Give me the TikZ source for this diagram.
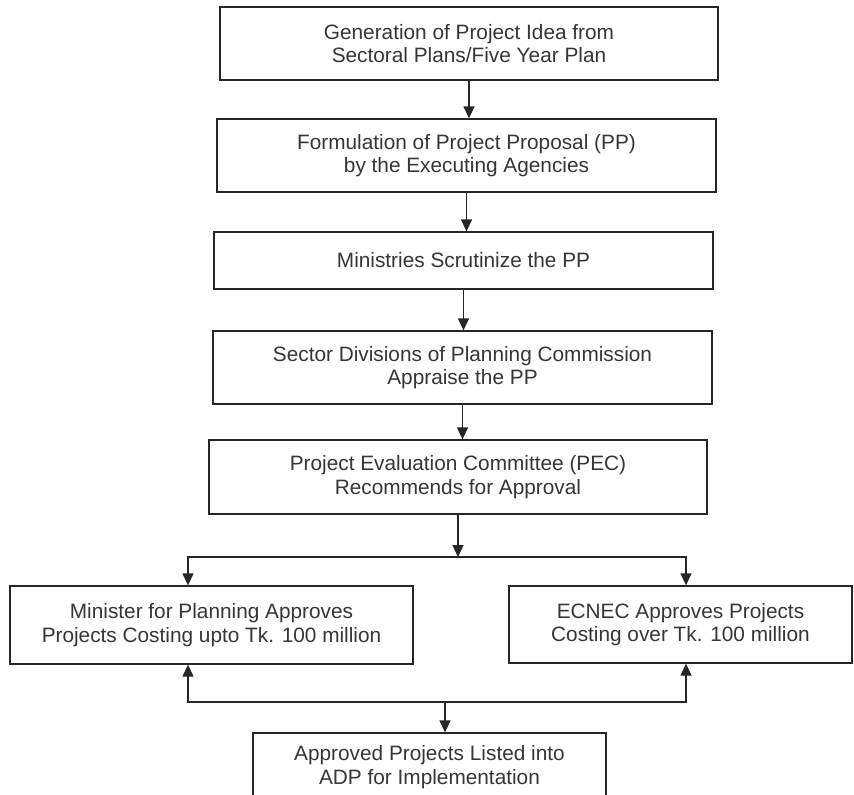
\documentclass[tikz,border=0pt]{standalone}
\usepackage{fontspec}
\setmainfont{Liberation Sans}
\usetikzlibrary{arrows.meta}
\definecolor{ink}{HTML}{262626}
\definecolor{txt}{HTML}{363636}
\begin{document}
\begin{tikzpicture}[x=1pt,y=-1pt,
  stepbox/.style={draw=ink, line width=1.3pt, text=txt, align=center,
    inner sep=0pt, font=\fontsize{20.8}{23.5}\selectfont},
  arr/.style={draw=ink, line width=1.3pt, -{Triangle[length=12pt,width=11pt]}},
  link/.style={draw=ink, line width=1.3pt, line cap=rect}]
\useasboundingbox (0,0) rectangle (854,795);
\fill[white] (0,0) rectangle (854,795);
\begin{scope}
\clip (0,0) rectangle (854,795);
% main chain of steps
\node[stepbox, minimum width=498pt, minimum height=73pt] (b1) at (469,43.5)
  {Generation of Project Idea from\\Sectoral Plans/Five Year Plan};
\node[stepbox, minimum width=499pt, minimum height=73pt] (b2) at (466.5,155.5)
  {Formulation of Project Proposal (PP)\\by the Executing Agencies};
\node[stepbox, minimum width=499pt, minimum height=57pt] (b3) at (463.5,260.5)
  {Ministries Scrutinize the PP};
\node[stepbox, minimum width=499pt, minimum height=73pt] (b4) at (462.5,367.5)
  {Sector Divisions of Planning Commission\\Appraise the PP};
\node[stepbox, minimum width=498pt, minimum height=74pt] (b5) at (458,477)
  {Project Evaluation Committee (PEC)\\Recommends for Approval};
% approving bodies
\node[stepbox, minimum width=403pt, minimum height=78pt] (b6) at (211.5,625)
  {Minister for Planning Approves\\Projects Costing upto Tk. 100 million};
\node[stepbox, minimum width=343pt, minimum height=77pt] (b7) at (680.5,624.5)
  {ECNEC Approves Projects\\Costing over Tk. 100 million};
% final listing
\node[stepbox, minimum width=353pt, minimum height=68pt] (b8) at (429.5,767)
  {Approved Projects Listed into\\ADP for Implementation};

% junction points
\coordinate (jm) at (461,557);
\coordinate (jl) at (188,557);
\coordinate (jr) at (686,557);
\coordinate (kl) at (188,702);
\coordinate (kr) at (686,702);
\coordinate (km) at (445,702);

% arrows down the chain
\draw[arr] (b1.south) -- (b1.south |- b2.north);
\draw[arr] (b2.south) -- (b2.south |- b3.north);
\draw[arr] (b3.south) -- (b3.south |- b4.north);
\draw[arr] (b4.south) -- (b4.south |- b5.north);
\draw[arr] (b5.south) -- (b5.south |- jm);

% split to the two approving bodies
\draw[link] (jl) -- (jr);
\draw[arr] (jl) -- (jl |- b6.north);
\draw[arr] (jr) -- (jr |- b7.north);

% merge into the ADP listing
\draw[link] (kl) -- (kr);
\draw[arr] (kl) -- (kl |- b6.south);
\draw[arr] (kr) -- (kr |- b7.south);
\draw[arr] (km) -- (km |- b8.north);
\end{scope}
\end{tikzpicture}
\end{document}
